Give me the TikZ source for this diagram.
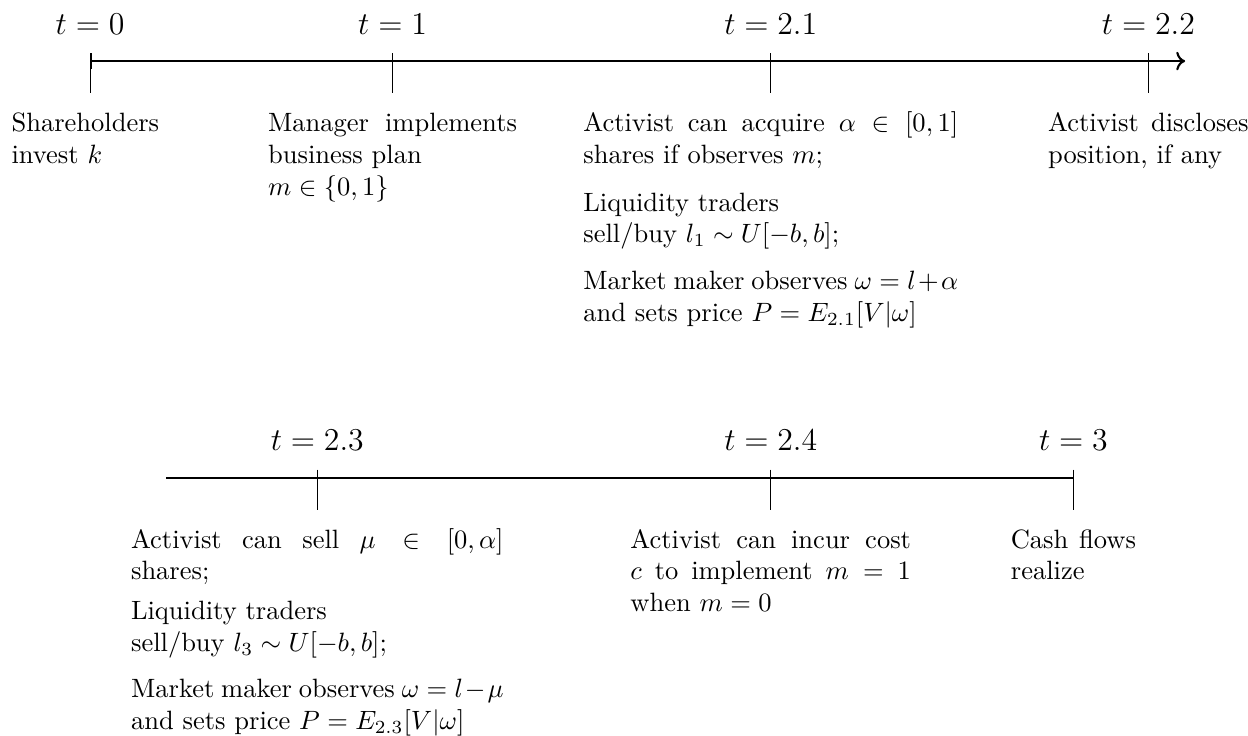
\documentclass[tikz,border=0pt]{standalone}
\usepackage{amsmath,amssymb}
\usepackage{tikz}
\usetikzlibrary{arrows.meta}

\begin{document}
\begin{tikzpicture}[
  evt/.style={text width=#1, align=justify, anchor=base, inner sep=0pt},
  tlab/.style={anchor=base, inner sep=0pt, font=\large},
  tickmark/.style={draw, line width=0.4pt},
  axis/.style={draw, thick}
]
  \useasboundingbox (0,0) rectangle (16.55,-9.75);

  % first line: t = 0 ... 2.2
  \coordinate (a0)   at (1.194,-0.81);
  \coordinate (a1)   at (5.206,-0.81);
  \coordinate (a21)  at (10.221,-0.81);
  \coordinate (a22)  at (15.229,-0.81);
  \coordinate (aend) at (15.716,-0.81);

  % second line: t = 2.3 ... 3
  \coordinate (b0)  at (2.202,-6.333);
  \coordinate (b23) at (4.208,-6.333);
  \coordinate (b24) at (10.221,-6.333);
  \coordinate (b3)  at (14.235,-6.333);

  \draw[axis, |->] (a0) -- (aend);
  \draw[axis] (b0) -- (b3);

  \foreach \p in {a0,a1,a21,a22,b23,b24,b3}
    \path[tickmark] ([yshift=0.106cm]\p) -- ([yshift=-0.424cm]\p);

  \node[tlab] (l0)  at ([yshift=0.358cm]a0)  {$t=0$};
  \node[tlab] (l1)  at ([yshift=0.358cm]a1)  {$t=1$};
  \node[tlab] (l21) at ([yshift=0.358cm]a21) {$t=2.1$};
  \node[tlab] (l22) at ([yshift=0.358cm]a22) {$t=2.2$};
  \node[tlab] (l23) at ([yshift=0.358cm]b23) {$t=2.3$};
  \node[tlab] (l24) at ([yshift=0.358cm]b24) {$t=2.4$};
  \node[tlab] (l3)  at ([yshift=0.358cm]b3)  {$t=3$};

  \node[evt=2.08cm] (e0) at ([yshift=-0.935cm]a0) {Shareholders invest $k$};
  \node[evt=3.3cm] (e1) at ([yshift=-0.935cm]a1)
    {Manager implements business plan\\ $m\in\{0,1\}$};
  \node[evt=4.97cm] (e21) at ([yshift=-0.935cm]a21)
    {Activist can acquire $\alpha\in[0,1]$ shares if observes $m$;\\[6pt]
     Liquidity traders\\ sell/buy $l_1\sim U[-b,b]$;\\[5.5pt]
     Market maker observes $\omega=l+\alpha$ and sets price $P=E_{2.1}[V|\omega]$};
  \node[evt=2.66cm] (e22) at ([yshift=-0.935cm]a22) {Activist discloses position, if any};

  \node[evt=4.94cm] (e23) at ([yshift=-0.935cm]b23)
    {Activist can sell $\mu\in[0,\alpha]$ shares;\\[3pt]
     Liquidity traders\\ sell/buy $l_3\sim U[-b,b]$;\\[5.5pt]
     Market maker observes $\omega=l-\mu$ and sets price $P=E_{2.3}[V|\omega]$};
  \node[evt=3.72cm] (e24) at ([yshift=-0.935cm]b24)
    {Activist can incur cost $c$ to implement $m=1$ when $m=0$};
  \node[evt=1.66cm] (e3) at ([yshift=-0.935cm]b3) {Cash flows realize};
\end{tikzpicture}
\end{document}
